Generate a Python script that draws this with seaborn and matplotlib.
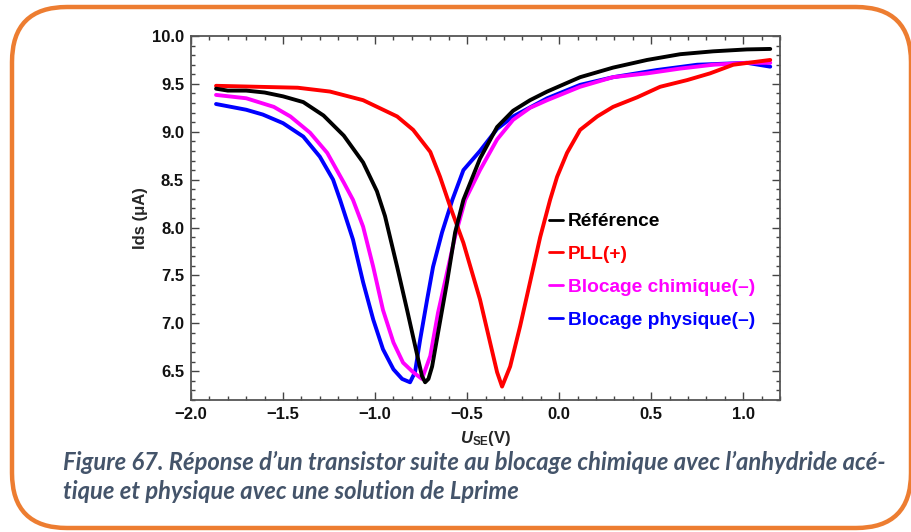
import numpy as np
import pandas as pd
import seaborn as sns
import matplotlib.pyplot as plt
from matplotlib.patches import FancyBboxPatch
from matplotlib.ticker import MultipleLocator

### donnees : U_SE (V) et Ids (uA)
ref_x = [-1.864, -1.80, -1.70, -1.60, -1.50, -1.39, -1.28, -1.17, -1.065, -0.99,
         -0.946, -0.88, -0.826, -0.77, -0.745, -0.728, -0.71, -0.69, -0.658, -0.609,
         -0.565, -0.52, -0.43, -0.337, -0.25, -0.158, -0.065, 0.114, 0.293, 0.478,
         0.658, 0.837, 1.02, 1.147]
ref_y = [9.45, 9.43, 9.43, 9.41, 9.37, 9.31, 9.17, 8.96, 8.68, 8.38,
         8.12, 7.59, 7.14, 6.66, 6.45, 6.385, 6.42, 6.55, 6.90, 7.43,
         7.95, 8.29, 8.72, 9.05, 9.22, 9.33, 9.42, 9.57, 9.67, 9.75,
         9.81, 9.84, 9.86, 9.865]

pll_x = [-1.864, -1.42, -1.245, -1.065, -0.88, -0.793, -0.70, -0.647, -0.592, -0.52,
         -0.43, -0.375, -0.337, -0.31, -0.266, -0.212, -0.158, -0.103, -0.049, -0.011,
         0.043, 0.114, 0.207, 0.293, 0.424, 0.549, 0.696, 0.82, 0.946, 1.147]
pll_y = [9.48, 9.46, 9.42, 9.33, 9.16, 9.02, 8.79, 8.53, 8.22, 7.84,
         7.25, 6.80, 6.49, 6.34, 6.55, 6.97, 7.43, 7.90, 8.29, 8.53,
         8.78, 9.02, 9.16, 9.26, 9.36, 9.47, 9.54, 9.61, 9.70, 9.75]

chim_x = [-1.864, -1.70, -1.55, -1.46, -1.353, -1.26, -1.17, -1.12, -1.065, -1.01,
          -0.957, -0.90, -0.848, -0.793, -0.745, -0.70, -0.658, -0.609, -0.565, -0.51,
          -0.43, -0.337, -0.25, -0.158, -0.065, 0.114, 0.293, 0.478, 0.658, 0.837,
          1.02, 1.147]
chim_y = [9.385, 9.35, 9.26, 9.16, 8.99, 8.78, 8.47, 8.29, 8.01, 7.59,
          7.14, 6.80, 6.59, 6.49, 6.42, 6.66, 7.11, 7.53, 7.91, 8.29,
          8.60, 8.92, 9.125, 9.25, 9.33, 9.47, 9.57, 9.61, 9.66, 9.70,
          9.72, 9.72]

phys_x = [-1.864, -1.70, -1.61, -1.50, -1.39, -1.30, -1.228, -1.19, -1.12, -1.065,
          -1.01, -0.957, -0.90, -0.853, -0.81, -0.783, -0.755, -0.717, -0.685, -0.636,
          -0.58, -0.52, -0.43, -0.337, -0.25, -0.065, 0.114, 0.293, 0.532, 0.75,
          1.02, 1.147]
phys_y = [9.29, 9.23, 9.18, 9.09, 8.95, 8.74, 8.50, 8.29, 7.875, 7.43,
          7.04, 6.73, 6.52, 6.42, 6.385, 6.49, 6.83, 7.25, 7.59, 7.95,
          8.29, 8.60, 8.80, 9.03, 9.16, 9.35, 9.49, 9.57, 9.645, 9.70,
          9.72, 9.68]

labels = ['Référence', 'PLL(+)', 'Blocage chimique(–)', 'Blocage physique(–)']
couleurs = ['#000000', '#FF0000', '#FF00FF', '#0000FF']
xs = [ref_x, pll_x, chim_x, phys_x]
ys = [ref_y, pll_y, chim_y, phys_y]

caption1 = 'Figure 67. Réponse d’un transistor suite au blocage chimique avec l’anhydride acé-'
caption2 = 'tique et physique avec une solution de Lprime'

sns.set_style('ticks')
plt.rcParams['font.family'] = ['Liberation Sans', 'DejaVu Sans']
plt.rcParams['font.weight'] = 'bold'
plt.rcParams['axes.labelweight'] = 'bold'
plt.rcParams['mathtext.fontset'] = 'custom'
plt.rcParams['mathtext.it'] = 'Liberation Sans:italic:bold'
plt.rcParams['mathtext.rm'] = 'Liberation Sans:bold'
plt.rcParams['mathtext.bf'] = 'Liberation Sans:bold'

fig = plt.figure(figsize=(9.12, 5.32), dpi=100)

### cadre orange arrondi
bg = fig.add_axes([0, 0, 1, 1])
bg.set_xlim(0, 912)
bg.set_ylim(532, 0)
bg.axis('off')
bg.add_patch(FancyBboxPatch((12, 7), 899, 521, boxstyle='round,pad=0,rounding_size=55',
                            fc='none', ec='#ED7D31', lw=3.2))

ax = fig.add_axes([191 / 912, 132 / 532, 589 / 912, 364 / 532])

df = pd.concat([pd.DataFrame({'U': x, 'Ids': y, 'serie': l}) for x, y, l in zip(xs, ys, labels)])

### ordre de trace : bleu, magenta, rouge, noir
for i in [3, 2, 1, 0]:
    sns.lineplot(data=df[df['serie'] == labels[i]], x='U', y='Ids', color=couleurs[i],
                 lw=2.8, estimator=None, sort=False, label=labels[i], ax=ax)

ax.set_xlim(-2.0, 1.2)
ax.set_ylim(6.2, 10.0)
ax.xaxis.set_major_locator(MultipleLocator(0.5))
ax.xaxis.set_minor_locator(MultipleLocator(0.1))
ax.yaxis.set_major_locator(MultipleLocator(0.5))
ax.yaxis.set_minor_locator(MultipleLocator(0.1))
ax.xaxis.set_major_formatter(lambda v, p: f'{v:.1f}'.replace('-', '−'))
ax.yaxis.set_major_formatter(lambda v, p: f'{v:.1f}')
ax.tick_params(which='both', direction='in', top=True, right=True, color='#444444', width=1)
ax.tick_params(which='major', length=6, labelsize=12, pad=5)
ax.tick_params(which='minor', length=3)
for s in ax.spines.values():
    s.set_color('#555555')
    s.set_linewidth(1.3)

ax.set_xlabel(r'$U_{\mathrm{SE}}$(V)', fontsize=12, labelpad=5)
ax.set_ylabel('Ids (μA)', fontsize=12, labelpad=3)

h, l = ax.get_legend_handles_labels()
d = dict(zip(l, h))
leg = ax.legend([d[k] for k in labels], labels, loc='upper left', bbox_to_anchor=(0.594, 0.535),
                frameon=False, handlelength=0.75, handletextpad=0.25, labelspacing=0.8,
                fontsize=13.8, labelcolor='linecolor', borderaxespad=0)
for ln in leg.get_lines():
    ln.set_linewidth(2)
for t in leg.get_texts():
    t.set_fontweight('bold')

### legende de la figure
t1 = bg.text(63, 470, caption1, fontfamily='Lato', fontstyle='italic', fontweight='bold',
             color='#44546A', fontsize=13.3, va='baseline')
t2 = bg.text(63, 499, caption2, fontfamily='Lato', fontstyle='italic', fontweight='bold',
             color='#44546A', fontsize=13.3, va='baseline')
fig.canvas.draw()
r = fig.canvas.get_renderer()
w = t1.get_window_extent(r).width
fs = 13.3 * 820 / w
t1.set_fontsize(fs)
t2.set_fontsize(fs)

### graduations en gras
for t in ax.xaxis.get_major_ticks() + ax.yaxis.get_major_ticks():
    t.label1.set_fontweight('bold')
    t.label1.set_color('#111111')

fig.savefig('out.png', dpi=100)
